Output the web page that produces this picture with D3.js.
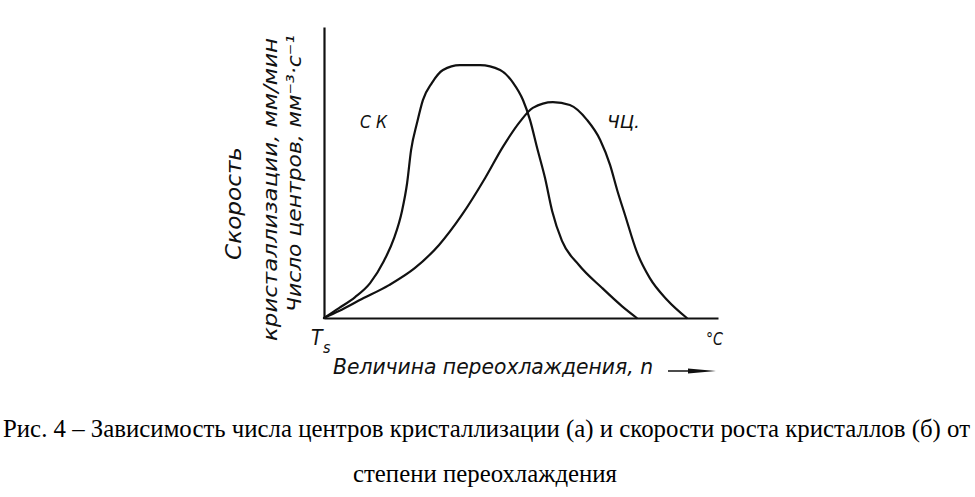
<!DOCTYPE html>
<html>
<head>
<meta charset="utf-8">
<script src="https://cdn.jsdelivr.net/npm/d3@7"></script>
<style>
  html, body { margin: 0; padding: 0; background: #fff; }
  svg { display: block; }
  .hand { font-family: "Liberation Sans Narrow", "DejaVu Sans Condensed", "Liberation Sans", sans-serif; font-style: italic; fill: #111; }
  .cap { font-family: "Liberation Serif", "DejaVu Serif", serif; fill: #000; }
</style>
</head>
<body>
<svg id="chart" width="975" height="497"></svg>
<script>
// Crystallisation rate curve (СК), arbitrary units
const skX = [0, 3.8, 7.9, 11.7, 15.2, 17.8, 19.8, 21.1, 22.1, 23.6, 25.1, 27.4, 30.2, 34.5, 39.6, 44.7, 48.0, 50.5, 52.3, 54.1, 56.1, 57.9, 60.4, 64.7, 70.6, 75.6, 79.4];
const skY = [0, 3.4, 7.2, 12.0, 19.6, 27.5, 36.8, 46.4, 57.7, 67.0, 74.9, 80.8, 85.2, 86.9, 86.9, 85.2, 80.8, 74.9, 68.0, 58.4, 48.1, 36.8, 26.5, 18.2, 10.3, 4.1, 0];
// Number of nucleation centres curve (ЧЦ), arbitrary units
const czX = [0, 3.8, 9.6, 16.5, 23.1, 29.2, 35.0, 40.9, 45.4, 49.7, 53.0, 58.1, 62.4, 66.8, 70.1, 72.6, 74.4, 76.4, 79.4, 82.7, 87.1, 92.1];
const czY = [0, 2.4, 6.5, 11.3, 17.2, 25.1, 35.4, 48.1, 58.8, 67.4, 72.2, 74.2, 73.2, 68.0, 61.2, 52.6, 44.0, 35.4, 22.7, 13.7, 6.2, 0];

const seriesLabels = ["С К", "ЧЦ."];
const yLabelLines = ["Скорость", "кристаллизации, мм/мин", "Число центров, мм⁻³·с⁻¹"];
const xLabel = "Величина переохлаждения, n";
const originLabel = "T";
const originSub = "s";
const unitLabel = "°C";
const captionLines = [
  "Рис. 4 – Зависимость числа центров кристаллизации (а) и скорости роста кристаллов (б) от",
  "степени переохлаждения"
];

const svg = d3.select("#chart");
const x = d3.scaleLinear().domain([0, 100]).range([324, 718]);
const y = d3.scaleLinear().domain([0, 100]).range([318, 27]);

// axes (no ticks)
svg.append("g").attr("transform", `translate(0,${y(0)})`)
  .call(d3.axisBottom(x).tickValues([]).tickSizeOuter(0))
  .select(".domain").attr("stroke", "#111").attr("stroke-width", 2);
svg.append("g").attr("transform", `translate(${x(0)},0)`)
  .call(d3.axisLeft(y).tickValues([]).tickSizeOuter(0))
  .select(".domain").attr("stroke", "#111").attr("stroke-width", 2.2);

const line = d3.line().x(d => x(d[0])).y(d => y(d[1])).curve(d3.curveMonotoneX);
const sk = skX.map((v, i) => [v, skY[i]]);
const cz = czX.map((v, i) => [v, czY[i]]);
[sk, cz].forEach(s => {
  svg.append("path").datum(s).attr("d", line)
    .attr("fill", "none").attr("stroke", "#111").attr("stroke-width", 2.2)
    .attr("stroke-linejoin", "round").attr("stroke-linecap", "round");
});

// series labels
svg.append("text").attr("class", "hand").attr("x", 360).attr("y", 128)
  .attr("font-size", 18).attr("textLength", 27).attr("lengthAdjust", "spacingAndGlyphs")
  .text(seriesLabels[0]);
svg.append("text").attr("class", "hand").attr("x", 607).attr("y", 128)
  .attr("font-size", 18).attr("textLength", 33).attr("lengthAdjust", "spacingAndGlyphs")
  .text(seriesLabels[1]);

// rotated y labels
const yl = [
  { bx: 241, cy: 203.5, len: 113, fs: 21 },
  { bx: 277, cy: 189.5, len: 303, fs: 20 },
  { bx: 301, cy: 173.5, len: 277, fs: 20 }
];
yLabelLines.forEach((t, i) => {
  svg.append("text").attr("class", "hand")
    .attr("transform", `translate(${yl[i].bx},${yl[i].cy}) rotate(-90)`)
    .attr("text-anchor", "middle").attr("font-size", yl[i].fs)
    .attr("textLength", yl[i].len).attr("lengthAdjust", "spacingAndGlyphs")
    .text(t);
});

// origin label Ts
svg.append("text").attr("class", "hand").attr("x", 311).attr("y", 345)
  .attr("font-size", 21).text(originLabel);
svg.append("text").attr("class", "hand").attr("x", 323).attr("y", 353)
  .attr("font-size", 16).text(originSub);
// unit label
svg.append("text").attr("class", "hand").attr("x", 706).attr("y", 345)
  .attr("font-size", 18).attr("textLength", 17).attr("lengthAdjust", "spacingAndGlyphs")
  .text(unitLabel);

// x label + arrow
svg.append("text").attr("class", "hand").attr("x", 333).attr("y", 374)
  .attr("font-size", 22).attr("textLength", 320).attr("lengthAdjust", "spacingAndGlyphs")
  .text(xLabel);
svg.append("line").attr("x1", 668).attr("x2", 695).attr("y1", 371).attr("y2", 371)
  .attr("stroke", "#111").attr("stroke-width", 1.5);
svg.append("path").attr("d", "M688,368.5 L716,371 L688,373.5 Z").attr("fill", "#111");

// caption
svg.append("text").attr("class", "cap").attr("x", 3).attr("y", 437)
  .attr("font-size", 25).attr("textLength", 967).attr("lengthAdjust", "spacingAndGlyphs")
  .text(captionLines[0]);
svg.append("text").attr("class", "cap").attr("x", 353).attr("y", 482)
  .attr("font-size", 25).attr("textLength", 264).attr("lengthAdjust", "spacingAndGlyphs")
  .text(captionLines[1]);
</script>
</body>
</html>
